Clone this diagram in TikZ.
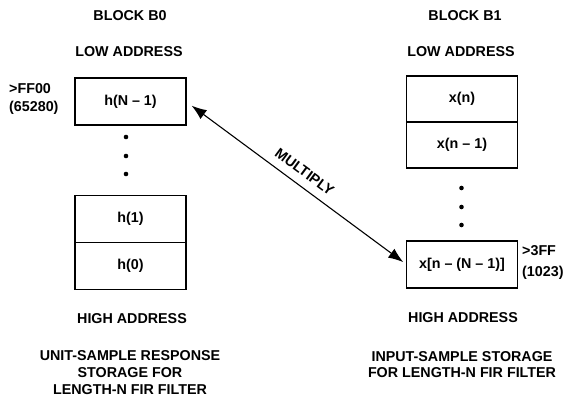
\documentclass[tikz,border=0pt]{standalone}
\usepackage{fontspec}
\setmainfont{Liberation Sans}
\usetikzlibrary{arrows.meta,positioning}

\begin{document}
\begin{tikzpicture}[x=1pt, y=-1pt,
  >={Latex[length=15pt,width=11pt]},
  font=\bfseries\fontsize{14.3}{16.7}\selectfont,
  cell/.style={draw, line width=1.1pt, outer sep=0pt, inner sep=0pt,
               minimum width=111pt, minimum height=47pt},
  lbl/.style={inner sep=0pt, align=center},
  addr/.style={inner sep=0pt, align=left, anchor=west},
  dot/.style={circle, fill, inner sep=0pt, minimum size=4.6pt}]
\useasboundingbox (0,0) rectangle (575,398);
% block B0
\node[lbl] (b0)  at (130,16) {BLOCK B0};
\node[lbl] (lo0) at (129,52) {LOW ADDRESS};
\node[cell] (hN) at (130.5,101.5) {h(N – 1)};
\node[dot] (d1) at (126,137) {};
\node[dot] (d2) at (126,156) {};
\node[dot] (d3) at (126,174) {};
\node[cell] (h1) at (130.5,219) {h(1)};
\node[cell, below=0pt of h1] (h0) {h(0)};
\node[lbl] (hi0) at (132,319) {HIGH ADDRESS};
\node[lbl] (cap0) at (130,372.5) {UNIT-SAMPLE RESPONSE\\STORAGE FOR\\LENGTH-N FIR FILTER};
\node[addr, font=\bfseries\fontsize{14.3}{18}\selectfont] (aFF) at (9,99) {>FF00\\(65280)};
% block B1
\node[lbl] (b1)  at (465,16) {BLOCK B1};
\node[lbl] (lo1) at (461,52) {LOW ADDRESS};
\node[cell, minimum height=46pt] (xn) at (462,99) {x(n)};
\node[cell, minimum height=46pt, below=0pt of xn] (xn1) {x(n – 1)};
\node[dot] (e1) at (461.5,188) {};
\node[dot] (e2) at (461.5,207) {};
\node[dot] (e3) at (461.5,225) {};
\node[cell] (xN) at (462,264.5) {x[n – (N – 1)]};
\node[addr, font=\bfseries\fontsize{14.3}{21}\selectfont] (a3FF) at (522,262) {>3FF\\(1023)};
\node[lbl] (hi1) at (463,318) {HIGH ADDRESS};
\node[lbl] (cap1) at (462,364.5) {INPUT-SAMPLE STORAGE\\FOR LENGTH-N FIR FILTER};
% multiply
\draw[line width=1.1pt, <->, shorten <=7pt, shorten >=4pt]
  (hN.east) -- node[midway, sloped, above=8.5pt, inner sep=0pt] {MULTIPLY} (xN.west);
\end{tikzpicture}
\end{document}
